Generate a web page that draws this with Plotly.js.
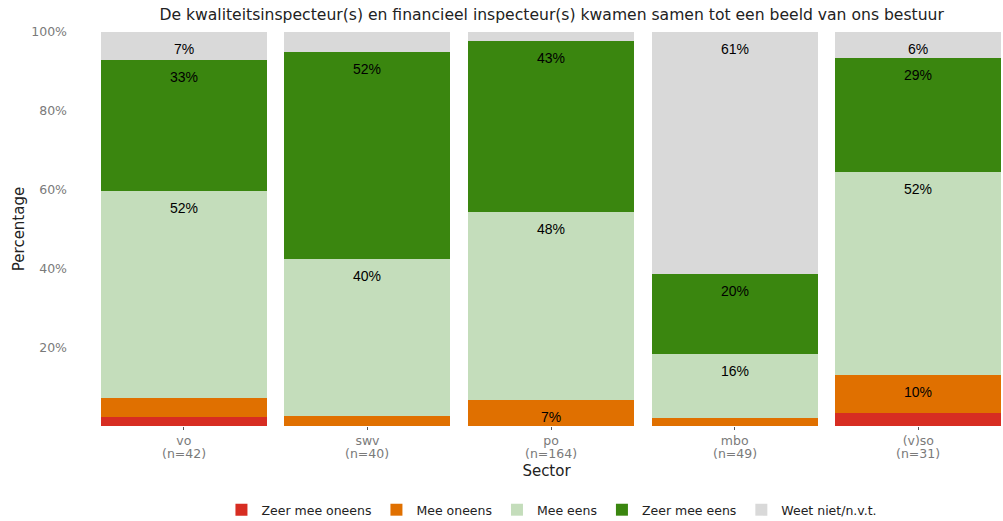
<!DOCTYPE html>
<html>
<head>
<meta charset="utf-8">
<script src="https://cdn.plot.ly/plotly-3.0.1.min.js"></script>
<style>html,body{margin:0;padding:0;background:#fff;}#chart{width:1003px;height:521px;}</style>
</head>
<body>
<div id="chart"></div>
<script>
const categories = ["vo", "swv", "po", "mbo", "(v)so"];
const nLabels = ["(n=42)", "(n=40)", "(n=164)", "(n=49)", "(n=31)"];
const seriesNames = ["Zeer mee oneens", "Mee oneens", "Mee eens", "Zeer mee eens", "Weet niet/n.v.t."];
const zeerMeeOneens = [2.4, 0, 0, 0, 3.2];
const meeOneens = [4.8, 2.5, 6.7, 2.0, 9.7];
const meeEens = [52.4, 40.0, 47.6, 16.3, 51.6];
const zeerMeeEens = [33.3, 52.4, 43.3, 20.4, 29.0];
const weetNiet = [7.1, 5.0, 2.4, 61.2, 6.45];
const colors = ["#d72d22", "#e07000", "#c4ddbb", "#3a860f", "#d9d9d9"];
const yTickVals = [20, 40, 60, 80, 100];
const yTickText = ["20%", "40%", "60%", "80%", "100%"];

const FONT = "DejaVu Sans, Verdana, sans-serif";
const series = [zeerMeeOneens, meeOneens, meeEens, zeerMeeEens, weetNiet];
const traces = series.map((vals, i) => ({
  type: "bar",
  name: seriesNames[i],
  x: categories,
  y: vals,
  marker: {color: colors[i]},
  hoverinfo: "none"
}));

const annotations = [];
const cum = categories.map(() => 0);
series.forEach(vals => {
  vals.forEach((v, j) => {
    cum[j] += v;
    if (v > 5) {
      annotations.push({
        x: categories[j], y: cum[j], xref: "x", yref: "y",
        text: Math.round(v) + "%", showarrow: false,
        yanchor: "top", yshift: -7,
        font: {family: "Liberation Sans, Arial, sans-serif", size: 14, color: "#000"}
      });
    }
  });
});
categories.forEach((c, j) => {
  annotations.push({
    x: c, y: 0, xref: "x", yref: "paper",
    text: nLabels[j], showarrow: false,
    yanchor: "middle", yshift: -27,
    font: {family: FONT, size: 12.5, color: "#7a7a7a"}
  });
});

const layout = {
  width: 1003, height: 521,
  barmode: "stack",
  bargap: 0.096,
  paper_bgcolor: "#fff", plot_bgcolor: "#fff",
  margin: {l: 92, r: 2, t: 32, b: 95},
  title: {text: "De kwaliteitsinspecteur(s) en financieel inspecteur(s) kwamen samen tot een beeld van ons bestuur",
          font: {family: FONT, size: 15.6, color: "#222"},
          x: 0.55, xanchor: "center", y: 0.982, yanchor: "top"},
  xaxis: {
    range: [-0.5, 4.45],
    showgrid: false, zeroline: false, showline: false,
    ticks: "outside", ticklen: 3, tickcolor: "#555", tickwidth: 1,
    tickfont: {family: FONT, size: 12.5, color: "#7a7a7a"},
    title: {text: "Sector", font: {family: FONT, size: 15, color: "#222"}, standoff: 18},
    fixedrange: true
  },
  yaxis: {
    range: [0, 100],
    tickvals: yTickVals, ticktext: yTickText,
    showgrid: false, zeroline: false, showline: false,
    ticks: "", ticklabelstandoff: 24,
    tickfont: {family: FONT, size: 12.5, color: "#7a7a7a"},
    title: {text: "Percentage", font: {family: FONT, size: 15, color: "#222"}, standoff: 3},
    fixedrange: true
  },
  legend: {
    orientation: "h", x: 0.506, xanchor: "center",
    yref: "container", y: 0.021, yanchor: "middle",
    font: {family: FONT, size: 12.5, color: "#222"},
    traceorder: "normal", itemwidth: 30
  },
  annotations: annotations,
  showlegend: true
};

Plotly.newPlot("chart", traces, layout, {displayModeBar: false, staticPlot: true});
</script>
</body>
</html>
